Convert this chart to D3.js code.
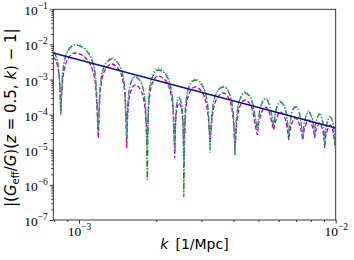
<!DOCTYPE html>
<html>
<head>
<meta charset="utf-8">
<script src="https://cdn.jsdelivr.net/npm/d3@7"></script>
<style>
  body { margin: 0; background: #fff; }
  svg { display: block; }
</style>
</head>
<body>
<div id="vis"></div>
<script>
// k values [1/Mpc] shared by the three oscillating curves
const kGrid = [
  7.94e-4, 8.21e-4, 8.40e-4, 8.49e-4,
  8.65e-4, 9.05e-4, 9.65e-4, 1.071e-3, 1.152e-3, 1.189e-3,
  1.211e-3, 1.263e-3, 1.341e-3, 1.434e-3, 1.503e-3, 1.534e-3,
  1.551e-3, 1.592e-3, 1.653e-3, 1.746e-3, 1.811e-3, 1.845e-3,
  1.872e-3, 1.938e-3, 2.035e-3, 2.192e-3, 2.309e-3, 2.361e-3,
  2.374e-3, 2.406e-3, 2.452e-3, 2.506e-3, 2.544e-3, 2.560e-3,
  2.600e-3, 2.692e-3, 2.831e-3, 3.028e-3, 3.174e-3, 3.239e-3,
  3.297e-3, 3.437e-3, 3.649e-3, 3.845e-3, 3.989e-3, 4.052e-3,
  4.107e-3, 4.238e-3, 4.433e-3, 4.684e-3, 4.868e-3, 4.950e-3,
  5.003e-3, 5.131e-3, 5.318e-3, 5.522e-3, 5.668e-3, 5.734e-3,
  5.786e-3, 5.906e-3, 6.084e-3, 6.317e-3, 6.487e-3, 6.560e-3,
  6.619e-3, 6.757e-3, 6.960e-3, 7.195e-3, 7.365e-3, 7.438e-3,
  7.498e-3, 7.641e-3, 7.849e-3, 8.063e-3, 8.217e-3, 8.283e-3,
  8.336e-3, 8.456e-3, 8.632e-3, 8.844e-3, 8.995e-3, 9.060e-3,
  9.126e-3, 9.291e-3, 9.528e-3, 9.761e-3, 1.0e-2
];

// green dash-dot
const greenVals = [
  6.08e-3, 3.60e-3, 9.70e-4, 9.78e-5,
  1.75e-3, 6.50e-3, 9.63e-3, 6.50e-3, 1.75e-3, 3.66e-5,
  6.99e-4, 2.59e-3, 3.84e-3, 2.59e-3, 6.99e-4, 2.31e-5,
  2.15e-4, 7.97e-4, 1.18e-3, 7.97e-4, 2.15e-4, 1.38e-6,
  3.40e-4, 1.26e-3, 1.87e-3, 1.26e-3, 3.40e-4, 9.86e-6,
  5.42e-5, 2.01e-4, 2.98e-4, 2.01e-4, 5.42e-5, 4.52e-7,
  1.76e-4, 6.55e-4, 9.70e-4, 6.55e-4, 1.76e-4, 9.86e-6,
  1.11e-4, 4.14e-4, 6.13e-4, 4.14e-4, 1.11e-4, 7.10e-6,
  7.52e-5, 2.79e-4, 4.14e-4, 2.79e-4, 7.52e-5, 3.66e-5,
  7.52e-5, 1.88e-4, 2.79e-4, 1.88e-4, 7.52e-5, 4.45e-5,
  8.03e-5, 1.65e-4, 2.29e-4, 1.65e-4, 6.18e-5, 2.31e-5,
  4.45e-5, 1.19e-4, 1.65e-4, 1.19e-4, 4.45e-5, 2.16e-5,
  4.17e-5, 8.58e-5, 1.19e-4, 8.58e-5, 4.45e-5, 2.47e-5,
  4.45e-5, 7.52e-5, 1.04e-4, 7.52e-5, 3.21e-5, 1.37e-5,
  3.00e-5, 6.18e-5, 8.58e-5, 5.42e-5, 9.86e-6
];

// magenta dashed
const magentaVals = [
  4.38e-3, 2.77e-3, 8.51e-4, 1.19e-4,
  1.04e-3, 3.84e-3, 5.70e-3, 3.84e-3, 1.04e-3, 2.16e-5,
  5.04e-4, 1.87e-3, 2.77e-3, 1.87e-3, 5.04e-4, 1.12e-5,
  1.27e-4, 4.72e-4, 6.99e-4, 4.72e-4, 1.27e-4, 1.90e-5,
  2.29e-4, 8.51e-4, 1.26e-3, 8.51e-4, 2.29e-4, 5.83e-6,
  3.90e-5, 1.45e-4, 2.15e-4, 1.45e-4, 3.90e-5, 5.12e-6,
  1.11e-4, 4.14e-4, 6.13e-4, 4.14e-4, 1.11e-4, 1.90e-5,
  7.52e-5, 2.79e-4, 4.14e-4, 2.79e-4, 7.52e-5, 9.86e-6,
  4.75e-5, 1.76e-4, 2.61e-4, 1.76e-4, 4.75e-5, 2.64e-5,
  5.08e-5, 1.11e-4, 1.65e-4, 1.11e-4, 5.08e-5, 3.66e-5,
  5.08e-5, 8.58e-5, 1.19e-4, 8.58e-5, 3.66e-5, 1.90e-5,
  3.00e-5, 5.79e-5, 8.03e-5, 5.79e-5, 3.00e-5, 1.90e-5,
  3.00e-5, 5.08e-5, 7.05e-5, 5.08e-5, 3.21e-5, 2.16e-5,
  3.21e-5, 4.17e-5, 5.79e-5, 4.17e-5, 2.16e-5, 1.12e-5,
  2.16e-5, 3.66e-5, 5.08e-5, 3.21e-5, 8.64e-6
];

// light blue dotted
const blueVals = [
  6.50e-3, 3.84e-3, 9.70e-4, 9.16e-5,
  1.87e-3, 6.94e-3, 1.028e-2, 6.94e-3, 1.87e-3, 4.17e-5,
  7.46e-4, 2.77e-3, 4.11e-3, 2.77e-3, 7.46e-4, 2.64e-5,
  2.29e-4, 8.51e-4, 1.26e-3, 8.51e-4, 2.29e-4, 9.86e-6,
  3.87e-4, 1.44e-3, 2.13e-3, 1.44e-3, 3.87e-4, 8.64e-6,
  6.18e-5, 2.29e-4, 3.40e-4, 2.29e-4, 6.18e-5, 3.69e-6,
  1.88e-4, 6.99e-4, 1.04e-3, 6.99e-4, 1.88e-4, 8.09e-6,
  1.19e-4, 4.42e-4, 6.55e-4, 4.42e-4, 1.19e-4, 7.10e-6,
  8.03e-5, 2.98e-4, 4.42e-4, 2.98e-4, 8.03e-5, 4.17e-5,
  8.03e-5, 2.01e-4, 2.98e-4, 2.01e-4, 8.03e-5, 4.75e-5,
  8.58e-5, 1.76e-4, 2.45e-4, 1.76e-4, 6.60e-5, 2.47e-5,
  4.75e-5, 1.27e-4, 1.76e-4, 1.27e-4, 4.75e-5, 2.31e-5,
  4.45e-5, 9.16e-5, 1.27e-4, 9.16e-5, 4.75e-5, 2.64e-5,
  4.75e-5, 8.03e-5, 1.11e-4, 8.03e-5, 3.42e-5, 1.46e-5,
  3.21e-5, 6.60e-5, 9.16e-5, 5.79e-5, 9.86e-6
];

// navy solid power law
const navyK = [7.94e-4, 1.0e-2];
const navyVals = [5.70e-3, 4.17e-5];

const xDomain = [7.94e-4, 1.0e-2];
const yDomain = [1e-7, 1e-1];
const xTickExps = [-3, -2];
const yTickExps = [-7, -6, -5, -4, -3, -2, -1];

const margin = { top: 9.3, right: 18.3, bottom: 40, left: 53.3 };
const width = 354 - margin.left - margin.right;
const height = 260 - margin.top - margin.bottom;

const svg = d3.select("#vis")
  .append("svg")
  .attr("width", 354)
  .attr("height", 260)
  .append("g")
  .attr("transform", `translate(${margin.left},${margin.top})`);

const x = d3.scaleLog().domain(xDomain).range([0, width]);
const y = d3.scaleLog().domain(yDomain).range([height, 0]);

svg.append("clipPath").attr("id", "plot")
  .append("rect").attr("width", width).attr("height", height);

// minor tick values (2..9 per decade)
const minorOf = (lo, hi) => {
  const out = [];
  for (let e = Math.floor(Math.log10(lo)); e < Math.ceil(Math.log10(hi)); e++) {
    for (let m = 2; m <= 9; m++) {
      const v = m * Math.pow(10, e);
      if (v >= lo && v <= hi) out.push(v);
    }
  }
  return out;
};

const tickStyle = g => {
  g.select(".domain").remove();
  g.selectAll(".tick line").attr("stroke", "#000").attr("stroke-width", 0.8);
};

// axes
svg.append("g").attr("transform", `translate(0,${height})`)
  .call(d3.axisBottom(x).tickValues(minorOf(...xDomain)).tickSize(2).tickFormat(""))
  .call(tickStyle);
svg.append("g")
  .call(d3.axisLeft(y).tickValues(minorOf(...yDomain)).tickSize(2).tickFormat(""))
  .call(tickStyle);

const xMajor = svg.append("g").attr("transform", `translate(0,${height})`)
  .call(d3.axisBottom(x).tickValues(xTickExps.map(e => Math.pow(10, e))).tickSize(3.5).tickFormat(""))
  .call(tickStyle);
const yMajor = svg.append("g")
  .call(d3.axisLeft(y).tickValues(yTickExps.map(e => Math.pow(10, e))).tickSize(3.5).tickFormat(""))
  .call(tickStyle);

const powLabel = (sel, anchor) => {
  sel.attr("font-family", "'Liberation Serif', 'DejaVu Serif', serif")
    .attr("font-size", 13.5)
    .attr("fill", "#000")
    .attr("text-anchor", anchor);
  sel.append("tspan").text("10");
  sel.append("tspan").attr("font-size", 9.5).attr("dy", -6)
    .text(d => "\u2212" + String(-Math.round(Math.log10(d))));
};

xMajor.selectAll(".tick").append("text")
  .attr("x", 0).attr("y", 15.5)
  .call(powLabel, "middle");
yMajor.selectAll(".tick").append("text")
  .attr("x", -5.5).attr("y", 5.5)
  .call(powLabel, "end");

// frame
svg.append("rect")
  .attr("width", width).attr("height", height)
  .attr("fill", "none").attr("stroke", "#222").attr("stroke-width", 0.9);

// curves: one arch per piece between cusps so the cusps stay sharp
const arch = d3.line()
  .x(d => x(d[0]))
  .y(d => y(d[1]))
  .curve(d3.curveMonotoneX);

function cuspPath(vals) {
  const pts = kGrid.map((k, i) => [k, vals[i]]);
  const cuts = [0];
  for (let i = 1; i < pts.length - 1; i++) {
    if (pts[i][1] < pts[i - 1][1] && pts[i][1] < pts[i + 1][1]) cuts.push(i);
  }
  cuts.push(pts.length - 1);
  let d = "";
  for (let j = 0; j < cuts.length - 1; j++) {
    const seg = arch(pts.slice(cuts[j], cuts[j + 1] + 1));
    d += j === 0 ? seg : "L" + seg.slice(1);
  }
  return d;
}

const plot = svg.append("g").attr("clip-path", "url(#plot)");

const series = [
  { vals: magentaVals, color: "#bf00bf", dash: "4.5,2" },
  { vals: greenVals, color: "#118a11", dash: "6,1.8,1.2,1.8" },
  { vals: blueVals, color: "#6495ed", dash: "1.3,1.9" }
];

series.forEach(s => {
  plot.append("path")
    .attr("d", cuspPath(s.vals))
    .attr("fill", "none")
    .attr("stroke", s.color)
    .attr("stroke-width", 1.3)
    .attr("stroke-dasharray", s.dash);
});

plot.append("path")
  .datum(navyK.map((k, i) => [k, navyVals[i]]))
  .attr("d", d3.line().x(d => x(d[0])).y(d => y(d[1])))
  .attr("fill", "none")
  .attr("stroke", "#10108a")
  .attr("stroke-width", 1.4);

// axis labels
const xl = svg.append("text")
  .attr("x", width / 2).attr("y", height + 29)
  .attr("text-anchor", "middle")
  .attr("font-family", "'DejaVu Sans', sans-serif")
  .attr("font-size", 14)
  .attr("fill", "#000");
xl.append("tspan").attr("font-style", "italic").text("k");
xl.append("tspan").attr("dx", 7).text("[1/Mpc]");

const yl = svg.append("text")
  .attr("transform", `translate(${-37},${height / 2 + 3}) rotate(-90)`)
  .attr("text-anchor", "middle")
  .attr("font-family", "'DejaVu Sans', sans-serif")
  .attr("font-size", 15)
  .attr("fill", "#000");
yl.append("tspan").text("|(");
yl.append("tspan").attr("font-style", "italic").text("G");
yl.append("tspan").attr("font-size", 10).attr("dy", 3).text("eff");
yl.append("tspan").attr("dy", -3).text("/");
yl.append("tspan").attr("font-style", "italic").text("G");
yl.append("tspan").text(")(");
yl.append("tspan").attr("font-style", "italic").text("z");
yl.append("tspan").text(" = 0.5, ");
yl.append("tspan").attr("font-style", "italic").text("k");
yl.append("tspan").text(") \u2212 1|");
</script>
</body>
</html>
